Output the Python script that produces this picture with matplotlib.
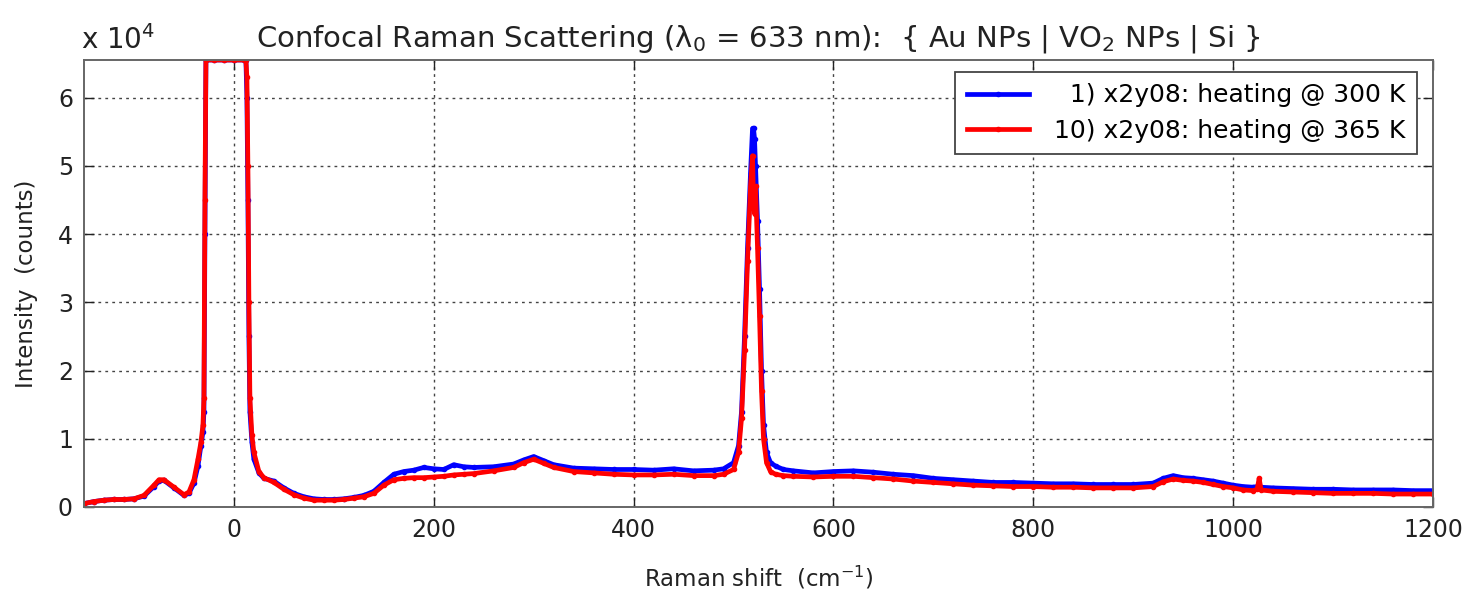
import matplotlib
matplotlib.use("Agg")
import matplotlib.pyplot as plt

plt.rcParams['font.family'] = ['DejaVu Sans']
plt.rcParams['mathtext.default'] = 'regular'

# Raman shift grid (cm^-1)
shift = [-150, -140, -130, -120, -110, -100, -90, -80, -75, -70, -60, -50, -45, -40,
         -36, -33, -31, -30, -29, -28, -20, -10, 0, 10, 12, 13, 14, 15, 16, 18, 20, 25,
         30, 40, 50, 60, 70, 80, 90, 100, 110, 120, 130, 140, 150, 160, 170, 180, 190,
         200, 210, 220, 230, 240, 260, 280, 290, 300, 310, 320, 340, 360, 380, 400, 420,
         440, 460, 480, 490, 500, 505, 508, 511, 514, 517, 519, 520, 521, 522, 524, 526,
         528, 530, 533, 537, 542, 550, 560, 580, 600, 620, 640, 660, 680, 700, 720, 740,
         760, 780, 800, 820, 840, 860, 880, 900, 920, 930, 940, 950, 960, 970, 980, 990,
         1000, 1010, 1020, 1024, 1026, 1028, 1040, 1060, 1080, 1100, 1120, 1140, 1160,
         1180, 1200]

# 1) x2y08: heating @ 300 K  (counts)
heat_300K = [500, 800, 1000, 1100, 1100, 1200, 1600, 3000, 3800, 3900, 2800, 1700, 2000, 3500,
             6000, 9000, 11000, 14000, 40000, 65535, 65535, 65535, 65535, 65535, 65535, 60000, 45000, 25000, 14000, 9500, 7000, 5000,
             4200, 3800, 2800, 2000, 1500, 1200, 1100, 1100, 1200, 1400, 1700, 2300, 3600, 4800, 5200, 5400, 5800,
             5600, 5500, 6200, 5900, 5800, 5900, 6300, 6900, 7400, 6800, 6200, 5700, 5600, 5500, 5500, 5400,
             5600, 5300, 5400, 5600, 6500, 9000, 14000, 25000, 38000, 49000, 55500, 55500, 54000, 50000, 42000, 32000,
             20000, 12000, 8000, 6500, 6000, 5500, 5300, 5000, 5200, 5300, 5100, 4800, 4600, 4200, 4000, 3800,
             3600, 3600, 3500, 3400, 3400, 3300, 3300, 3300, 3500, 4200, 4600, 4300, 4200, 4000, 3800, 3500,
             3200, 3000, 2900, 3000, 3000, 2900, 2800, 2700, 2600, 2600, 2500, 2500, 2500,
             2400, 2400]

# 10) x2y08: heating @ 365 K  (counts)
heat_365K = [500, 800, 1000, 1100, 1100, 1200, 1700, 3200, 4000, 4000, 2900, 1800, 2200, 4000,
             7000, 9500, 12000, 16000, 45000, 65535, 65535, 65535, 65535, 65535, 65535, 63000, 50000, 30000, 16000, 10500, 8000, 5200,
             4300, 3600, 2600, 1800, 1300, 1000, 1000, 1000, 1100, 1300, 1500, 2000, 3200, 4000, 4200, 4300, 4300,
             4400, 4500, 4700, 4800, 4900, 5300, 5800, 6500, 7000, 6400, 5800, 5200, 5000, 4800, 4700, 4700,
             4800, 4600, 4600, 4800, 5500, 8000, 13000, 23000, 36000, 47000, 51500, 45000, 43000, 47000, 38000, 28000,
             17000, 10000, 6500, 5200, 4800, 4600, 4500, 4400, 4500, 4500, 4300, 4100, 3800, 3600, 3400, 3200,
             3100, 3000, 3000, 2900, 2900, 2800, 2800, 2800, 3000, 3700, 4100, 3900, 3800, 3600, 3300, 3000,
             2800, 2500, 2400, 2600, 4200, 2500, 2300, 2200, 2100, 2000, 2000, 2000, 1900,
             1900, 1900]

labels = ['\u20071) x2y08: heating @ 300 K', '10) x2y08: heating @ 365 K']
x_ticks = [0, 200, 400, 600, 800, 1000, 1200]
y_ticks = [0, 10000, 20000, 30000, 40000, 50000, 60000]
y_tick_labels = ['0', '1', '2', '3', '4', '5', '6']

fig = plt.figure(figsize=(14.69, 6.0), dpi=100)
ax = fig.add_axes([0.0572, 0.155, 0.9183, 0.745])

ax.plot(shift, heat_300K, color='#0000ff', lw=3.4, marker='.', ms=6, label=labels[0])
ax.plot(shift, heat_365K, color='#ff0000', lw=3.4, marker='.', ms=6, label=labels[1])

ax.set_xlim(-150, 1200)
ax.set_ylim(0, 65535)
ax.set_xticks(x_ticks)
ax.set_yticks(y_ticks)
ax.set_yticklabels(y_tick_labels)
ax.tick_params(direction='in', length=7, width=1, labelsize=17, top=True, right=True,
               pad=8, colors='#222222')
ax.grid(True, color='#444444', linestyle=(0, (2, 3)), linewidth=1.0)
for sp in ax.spines.values():
    sp.set_color('#666666')
    sp.set_linewidth(1.4)

ax.set_xlabel('Raman shift  (cm$^{-1}$)', fontsize=16.5, labelpad=16, color='#222222')
ax.set_ylabel('Intensity  (counts)', fontsize=16.5, labelpad=14, color='#222222')
ax.set_title('Confocal Raman Scattering (λ$_0$ = 633 nm):  { Au NPs | VO$_2$ NPs | Si }',
             fontsize=21, pad=10, color='#222222')
ax.text(-0.002, 1.012, 'x 10$^4$', transform=ax.transAxes, fontsize=20, color='#222222',
        ha='left', va='bottom')

leg = ax.legend(loc='upper right', bbox_to_anchor=(0.988, 0.973), fontsize=18,
                fancybox=False, edgecolor='#444444', framealpha=1, borderaxespad=0,
                handlelength=2.5, labelspacing=0.45, borderpad=0.45, handletextpad=1.0)
leg.get_frame().set_linewidth(1.3)

fig.savefig('out.png', dpi=100)
